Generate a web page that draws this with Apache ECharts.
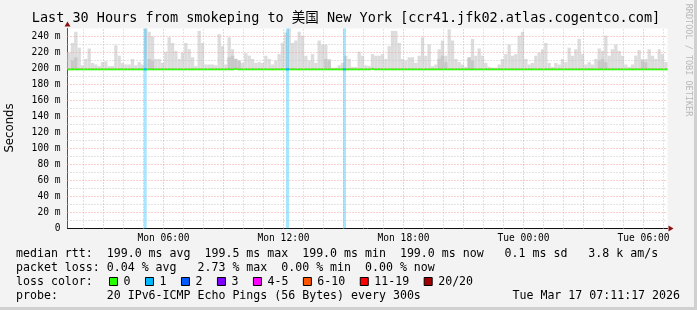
<!DOCTYPE html>
<html><head><meta charset="utf-8">
<script src="https://cdn.jsdelivr.net/npm/echarts@6/dist/echarts.min.js"></script>
<style>html,body{margin:0;padding:0;background:#f3f3f3}#c{width:697px;height:310px}</style>
</head><body><div id="c"></div>
<script>
// ---------------- data ----------------
const titleText = 'Last 30 Hours from smokeping to 美国 New York [ccr41.jfk02.atlas.cogentco.com]';
const startMin = 72;    // Mon 01:12 (minutes since Mon 00:00)
const endMin = 1872;    // Tue 07:12
const stepMin = 10;     // smoke bucket size in minutes
// top of the smoke (highest ping) per 10-minute bucket, in ms
const smokeMax = [
 220,232,246,226,204,212,225,207,205,203,208,209,203,203,229,216,207,205,205,212,204,208,205,250,246,240,212,212,207,221,239,232,222,212,220,232,
 224,214,203,247,232,205,205,205,204,243,228,205,239,224,212,207,207,219,216,212,207,208,207,216,212,205,210,218,232,245,250,232,235,246,241,216,
 210,218,207,235,230,230,212,201,201,204,207,216,212,202,202,221,216,204,203,218,216,216,218,212,228,247,247,232,212,210,214,214,207,216,239,216,
 230,203,205,224,235,216,249,235,212,208,205,202,212,237,216,225,216,207,202,201,201,205,212,218,230,216,218,241,246,212,205,207,216,220,224,232,
 207,202,207,205,212,208,226,216,224,237,218,205,208,205,212,225,222,241,216,224,230,222,216,205,202,205,216,223,212,212,224,216,212,224,218,208
];
// darker smoke patches: bucket index and top value
const darkBuckets = [1,2,24,25,48,49,50,51,77,78,111,112,113,120,121,159,160,161,172,173];
const darkTops    = [210,214,212,210,214,216,212,210,212,210,212,216,208,214,210,210,212,208,210,208];
// median rtt per bucket, ms
const medianRtt = [
 199.0,199.0,199.0,199.0,199.0,199.0,199.0,199.0,199.0,199.0,199.0,199.0,199.0,199.0,199.0,199.0,199.0,199.0,199.0,199.0,199.0,199.0,199.0,199.0,199.0,199.0,199.0,199.0,199.0,199.0,199.0,199.0,199.0,199.0,199.0,199.0,
 199.0,199.0,199.0,199.0,199.0,199.0,199.0,199.0,199.0,199.0,199.0,199.0,199.0,199.0,199.5,199.0,199.0,199.0,199.0,199.0,199.0,199.0,199.0,199.0,199.0,199.0,199.0,199.0,199.0,199.0,199.0,199.0,199.0,199.0,199.0,199.0,
 199.0,199.0,199.0,199.0,199.0,199.0,199.0,199.0,199.0,199.0,199.0,199.0,199.0,199.0,199.0,199.0,199.0,199.0,199.0,199.5,199.0,199.0,199.0,199.0,199.0,199.0,199.0,199.0,199.0,199.0,199.0,199.0,199.0,199.0,199.0,199.0,
 199.0,199.0,199.0,199.0,199.0,199.0,199.0,199.0,199.0,199.0,199.0,199.0,199.0,199.0,199.0,199.0,199.0,199.0,199.0,199.0,199.0,199.0,199.0,199.0,199.0,199.0,199.0,199.0,199.0,199.0,199.0,199.0,199.0,199.0,199.0,199.0,
 199.0,199.0,199.0,199.0,199.0,199.0,199.0,199.0,199.0,199.0,199.0,199.0,199.0,199.0,199.0,199.0,199.0,199.0,199.0,199.0,199.0,199.0,199.0,199.0,199.0,199.0,199.0,199.0,199.0,199.0,199.0,199.0,199.0,199.0,199.0,199.0
];
// packet loss events (minute, lost pings)
const lossTimes  = [305, 732, 903];
const lossCounts = [1, 1, 1];
const lossHalfWidth = 4.5;

// axis ticks
const xLabelValues = [360, 720, 1080, 1440, 1800];
const xLabelTexts  = ['Mon 06:00', 'Mon 12:00', 'Mon 18:00', 'Tue 00:00', 'Tue 06:00'];
const hourLines  = [120,180,240,300,360,420,480,540,600,660,720,780,840,900,960,1020,1080,1140,1200,1260,1320,1380,1440,1500,1560,1620,1680,1740,1800,1860];
const majorLines = [180,360,540,720,900,1080,1260,1440,1620,1800];
const yMajor = [20,40,60,80,100,120,140,160,180,200,220,240];
const yMinor = [10,30,50,70,90,110,130,150,170,190,210,230];

// legend / stats text
const statLines = [
 'median rtt:  199.0 ms avg  199.5 ms max  199.0 ms min  199.0 ms now   0.1 ms sd   3.8 k am/s',
 'packet loss: 0.04 % avg   2.73 % max  0.00 % min  0.00 % now',
 'loss color:',
 'probe:       20 IPv6-ICMP Echo Pings (56 Bytes) every 300s'
];
const stampText = 'Tue Mar 17 07:11:17 2026';
const lossLabels = ['0', '1', '2', '3', '4-5', '6-10', '11-19', '20/20'];
const lossColors = ['#26ff00', '#00b8ff', '#0059ff', '#7e00ff', '#ff00ff', '#ff5500', '#ff0000', '#a10000'];

// ---------------- build ----------------
const MONO = '"DejaVu Sans Mono", "Noto Sans CJK SC", monospace';
const RED = '#f2a0a0', GRAY = '#c6c6c6';

function lossIndex(c) {
  if (c <= 0) return 0; if (c === 1) return 1; if (c === 2) return 2; if (c === 3) return 3;
  if (c <= 5) return 4; if (c <= 10) return 5; if (c <= 19) return 6; return 7;
}

const smokeData = smokeMax.map((v, i) => [startMin + i * stepMin, startMin + (i + 1) * stepMin, v, medianRtt[i]]);
const darkData = darkBuckets.map((b, k) => [startMin + b * stepMin, startMin + (b + 1) * stepMin, darkTops[k], medianRtt[b]]);
const medianData = medianRtt.map((v, i) => [startMin + i * stepMin, startMin + (i + 1) * stepMin, v]);
const lossData = lossTimes.map((t, k) => [t, lossCounts[k]]);

function smokeRender(fill) {
  return function (params, api) {
    const p0 = api.coord([api.value(0), api.value(3)]);
    const p1 = api.coord([api.value(1), api.value(2)]);
    return { type: 'rect', shape: { x: p0[0], y: p1[1], width: p1[0] - p0[0], height: p0[1] - p1[1] }, style: { fill: fill } };
  };
}

const markData = [];
hourLines.forEach(v => markData.push({ xAxis: v, lineStyle: { color: majorLines.includes(v) ? RED : GRAY, type: [1, 2], width: 1 } }));
yMinor.forEach(v => markData.push({ yAxis: v, lineStyle: { color: GRAY, type: [1, 2], width: 1 } }));
yMajor.forEach(v => markData.push({ yAxis: v, lineStyle: { color: RED, type: [1, 2], width: 1 } }));

const gridL = 67.5, gridT = 28.5, gridW = 600, gridH = 200;
const charW = 6.98;
const lineY = [254, 268, 282, 296];

const graphics = [];
graphics.push({ type: 'text', x: 346, y: 18, style: { text: titleText, font: '13.5px ' + MONO, fill: '#000', align: 'center', verticalAlign: 'middle' } });
graphics.push({ type: 'text', x: 10, y: 128, rotation: Math.PI / 2, style: { text: 'Seconds', font: '11.7px "DejaVu Sans", sans-serif', fill: '#000', align: 'center', verticalAlign: 'middle' } });
graphics.push({ type: 'text', x: 688, y: 60, rotation: -Math.PI / 2, style: { text: 'RRDTOOL / TOBI OETIKER', font: '8.5px ' + MONO, fill: '#b8b8b8', align: 'center', verticalAlign: 'middle' } });
statLines.forEach((s, i) => graphics.push({ type: 'text', x: 16, y: lineY[i], style: { text: s, font: '11.6px ' + MONO, fill: '#000', align: 'left', verticalAlign: 'middle' } }));
graphics.push({ type: 'text', x: 680, y: lineY[3], style: { text: stampText, font: '11.6px ' + MONO, fill: '#000', align: 'right', verticalAlign: 'middle' } });
let lx = 109;
lossLabels.forEach((lab, i) => {
  graphics.push({ type: 'rect', shape: { x: lx + 0.5, y: lineY[2] - 4.5, width: 8, height: 8 }, style: { fill: lossColors[i], stroke: '#000', lineWidth: 1 } });
  graphics.push({ type: 'text', x: lx + 14.5, y: lineY[2], style: { text: lab, font: '11.6px ' + MONO, fill: '#000', align: 'left', verticalAlign: 'middle' } });
  lx += 14.5 + lab.length * charW + 14.5;
});
// axis arrows
graphics.push({ type: 'polygon', shape: { points: [[gridL + gridW + 6, gridT + gridH], [gridL + gridW + 1, gridT + gridH - 3], [gridL + gridW + 1, gridT + gridH + 3]] }, style: { fill: '#8b1010' }, z: 10 });
graphics.push({ type: 'polygon', shape: { points: [[gridL, gridT - 7], [gridL - 3, gridT - 2], [gridL + 3, gridT - 2]] }, style: { fill: '#8b1010' }, z: 10 });
// frame
graphics.push({ type: 'rect', shape: { x: 694, y: 0, width: 3, height: 310 }, style: { fill: '#d0d0d0' } });
graphics.push({ type: 'rect', shape: { x: 0, y: 307, width: 697, height: 3 }, style: { fill: '#d0d0d0' } });

const chart = echarts.init(document.getElementById('c'), null, { renderer: 'canvas', width: 697, height: 310 });
chart.setOption({
  animation: false,
  backgroundColor: '#f3f3f3',
  grid: { left: gridL, top: gridT, width: gridW, height: gridH, show: true, backgroundColor: '#ffffff', borderWidth: 0 },
  xAxis: {
    type: 'value', min: startMin, max: endMin,
    splitLine: { show: false },
    axisLine: { show: true, onZero: false, lineStyle: { color: '#111', width: 1 } },
    axisTick: { show: false },
    axisLabel: {
      customValues: xLabelValues,
      formatter: v => { const k = xLabelValues.indexOf(v); return k >= 0 ? xLabelTexts[k] : ''; },
      margin: 5, color: '#000', fontFamily: 'DejaVu Sans Mono', fontSize: 9.6
    }
  },
  yAxis: {
    type: 'value', min: 0, max: 250, interval: 20,
    splitLine: { show: false },
    axisLine: { show: true, lineStyle: { color: '#555', width: 1 } },
    axisTick: { show: false },
    axisLabel: {
      formatter: v => v === 0 ? '0' : (v > 240 ? '' : v + ' m'),
      margin: 7, color: '#000', fontFamily: 'DejaVu Sans Mono', fontSize: 9.6
    }
  },
  series: [
    { type: 'custom', name: 'smoke', data: smokeData, renderItem: smokeRender('#dcdcdc'), z: 1, silent: true },
    { type: 'custom', name: 'smokeDark', data: darkData, renderItem: smokeRender('#c8c8c8'), z: 1.5, silent: true },
    { type: 'custom', name: 'lossBand', data: lossData, z: 2, silent: true,
      renderItem: (params, api) => {
        const t = api.value(0);
        const p0 = api.coord([t - lossHalfWidth, 0]);
        const p1 = api.coord([t + lossHalfWidth, 250]);
        return { type: 'rect', shape: { x: p0[0], y: p1[1], width: p1[0] - p0[0], height: p0[1] - p1[1] },
          style: { fill: lossColors[lossIndex(api.value(1))], opacity: 0.35 } };
      } },
    { type: 'line', name: 'grid', data: [[endMin, 0]], showSymbol: false, lineStyle: { opacity: 0 }, z: 3, silent: true,
      markLine: { silent: true, symbol: ['none', 'none'], label: { show: false }, animation: false, data: markData } },
    { type: 'custom', name: 'median', data: medianData, z: 4, silent: true,
      renderItem: (params, api) => {
        const p0 = api.coord([api.value(0), api.value(2)]);
        const p1 = api.coord([api.value(1), api.value(2)]);
        return { type: 'line', shape: { x1: p0[0], y1: p0[1], x2: p1[0], y2: p1[1] }, style: { stroke: lossColors[0], lineWidth: 2 } };
      } },
    { type: 'custom', name: 'lossSeg', data: lossData, z: 5, silent: true,
      renderItem: (params, api) => {
        const t = api.value(0);
        const p0 = api.coord([t - lossHalfWidth, 199]);
        const p1 = api.coord([t + lossHalfWidth, 199]);
        return { type: 'line', shape: { x1: p0[0], y1: p0[1], x2: p1[0], y2: p1[1] }, style: { stroke: lossColors[lossIndex(api.value(1))], lineWidth: 2 } };
      } }
  ],
  graphic: graphics
});
</script></body></html>
